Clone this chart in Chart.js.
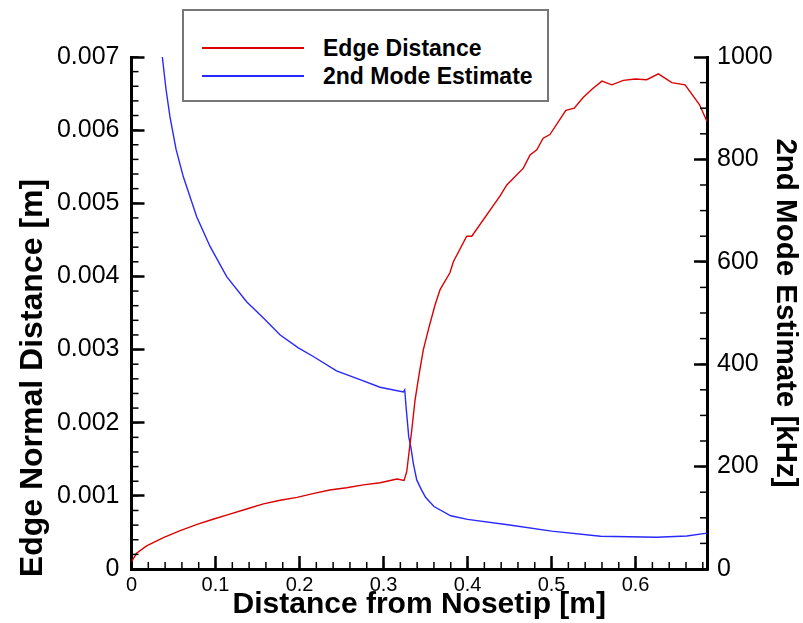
<!DOCTYPE html>
<html>
<head>
<meta charset="utf-8">
<script src="https://cdn.jsdelivr.net/npm/chart.js@4.4.1/dist/chart.umd.min.js"></script>
<style>
  body { margin: 0; background: #fff; }
  #wrap { position: relative; width: 803px; height: 623px; }
  #legend {
    position: absolute; left: 182px; top: 9px; width: 363px; height: 89px;
    border: 2px solid #777; background: #fff;
    font: bold 23px "Liberation Sans", Arial, sans-serif; color: #000;
  }
  .row { position: absolute; left: 0; height: 26px; width: 100%; }
  .row .ln { position: absolute; left: 18px; top: 12px; width: 102px; height: 2px; }
  .row .tx { position: absolute; left: 139px; top: 0; line-height: 26px; white-space: nowrap; }
</style>
</head>
<body>
<div id="wrap">
  <canvas id="chart" width="803" height="623"></canvas>
  <div id="legend"></div>
</div>
<script>
// Edge distance (left axis, m) vs distance from nosetip (m)
const edgeX = [0, 0.006, 0.018, 0.038, 0.058, 0.078, 0.097, 0.117, 0.137, 0.157, 0.177, 0.197,
  0.216, 0.236, 0.256, 0.276, 0.296, 0.316, 0.3244, 0.3276, 0.3307, 0.3336, 0.3375, 0.3426,
  0.3474, 0.3533, 0.3554, 0.3613, 0.3673, 0.379, 0.3831, 0.399, 0.405, 0.4387, 0.4467, 0.4664,
  0.4744, 0.4824, 0.490, 0.498, 0.517, 0.527, 0.537, 0.548, 0.56, 0.5717, 0.5855, 0.5994,
  0.6133, 0.6271, 0.6431, 0.6589, 0.676, 0.685];
const edgeY = [0.00010, 0.000215, 0.000315, 0.00043, 0.000524, 0.00061, 0.00068, 0.00075,
  0.00082, 0.00089, 0.00094, 0.00098, 0.00103, 0.00108, 0.00111, 0.00115, 0.00118, 0.00123,
  0.00121, 0.00133, 0.00163, 0.0019, 0.00231, 0.00268, 0.0030, 0.00327, 0.00336, 0.00361,
  0.00382, 0.00405, 0.0042, 0.00455, 0.00455, 0.0051, 0.00525, 0.00548, 0.00566, 0.00573,
  0.00589, 0.00594, 0.00627, 0.0063, 0.00644, 0.00656, 0.00667, 0.00662, 0.00668, 0.0067,
  0.00669, 0.00677, 0.00665, 0.00662, 0.00635, 0.00612];

// 2nd mode estimate (right axis, kHz)
const modeX = [0.0367, 0.041, 0.0458, 0.053, 0.0617, 0.0776, 0.0935, 0.1133, 0.137, 0.157, 0.177,
  0.1986, 0.2164, 0.244, 0.272, 0.2958, 0.3236, 0.3252, 0.3268, 0.330, 0.3324, 0.3355, 0.3395,
  0.345, 0.35, 0.36, 0.38, 0.40, 0.45, 0.50, 0.5583, 0.625, 0.661, 0.685];
const modeY = [1000, 938, 883, 820, 766, 688, 630, 571, 522, 490, 457, 432, 415, 387, 370, 355,
  346, 350, 317, 258, 239, 206, 174, 155, 140, 122, 104, 97, 86, 74, 64, 62, 64.5, 70];

const xTicks = [0, 0.1, 0.2, 0.3, 0.4, 0.5, 0.6];
const xLabels = ['0', '0.1', '0.2', '0.3', '0.4', '0.5', '0.6'];
const leftTicks = [0, 0.001, 0.002, 0.003, 0.004, 0.005, 0.006, 0.007];
const leftLabels = ['0', '0.001', '0.002', '0.003', '0.004', '0.005', '0.006', '0.007'];
const rightTicks = [0, 200, 400, 600, 800, 1000];
const rightLabels = ['0', '200', '400', '600', '800', '1000'];

const FONT = '"Liberation Sans", Arial, sans-serif';

function pts(xs, ys) { return xs.map((x, i) => ({x: x, y: ys[i]})); }

// major ticks come from the scales (negative length = inward); minors + left title here
const innerTicks = {
  id: 'innerTicks',
  afterDraw(chart) {
    const ctx = chart.ctx;
    const a = chart.chartArea;
    const sx = chart.scales.x, sl = chart.scales.y, sr = chart.scales.y1;
    ctx.save();
    ctx.strokeStyle = '#000';
    ctx.lineWidth = 1.5;
    for (let v = 0.02; v < 0.685; v += 0.02) {
      const p = sx.getPixelForValue(v);
      ctx.beginPath(); ctx.moveTo(p, a.bottom); ctx.lineTo(p, a.bottom - 7); ctx.stroke();
    }
    for (let v = 0.0002; v < 0.007; v += 0.0002) {
      const p = sl.getPixelForValue(v);
      ctx.beginPath(); ctx.moveTo(a.left, p); ctx.lineTo(a.left + 7, p); ctx.stroke();
    }
    for (let v = 50; v < 1000; v += 50) {
      const p = sr.getPixelForValue(v);
      ctx.beginPath(); ctx.moveTo(a.right, p); ctx.lineTo(a.right - 7, p); ctx.stroke();
    }

    ctx.translate(33, 378);
    ctx.rotate(-Math.PI / 2);
    ctx.fillStyle = '#000';
    ctx.font = 'bold 32px ' + FONT;
    ctx.textAlign = 'center';
    ctx.textBaseline = 'middle';
    ctx.fillText('Edge Normal Distance [m]', 0, 0);
    ctx.restore();
  }
};

const inwardGrid = {
  display: true, drawOnChartArea: false, drawTicks: true,
  tickLength: -13, tickWidth: 2.5, tickColor: '#000'
};

const chart = new Chart(document.getElementById('chart'), {
  type: 'line',
  data: {
    datasets: [
      {
        label: 'Edge Distance',
        data: pts(edgeX, edgeY),
        borderColor: 'rgb(220,0,0)',
        borderWidth: 1.4,
        pointRadius: 0,
        tension: 0,
        yAxisID: 'y'
      },
      {
        label: '2nd Mode Estimate',
        data: pts(modeX, modeY),
        borderColor: 'rgb(40,40,255)',
        borderWidth: 1.4,
        pointRadius: 0,
        tension: 0,
        yAxisID: 'y1'
      }
    ]
  },
  options: {
    responsive: false,
    animation: false,
    devicePixelRatio: 1,
    layout: { padding: { top: 57, left: 0, right: 0, bottom: 0 } },
    plugins: { legend: { display: false }, tooltip: { enabled: false } },
    scales: {
      x: {
        type: 'linear', min: 0, max: 0.685,
        afterBuildTicks: s => { s.ticks = xTicks.map(v => ({value: v})); },
        afterFit: s => { s.height = 54; },
        grid: inwardGrid,
        border: { display: true, color: '#000', width: 3 },
        ticks: {
          color: '#000', padding: 17, maxRotation: 0,
          font: { family: FONT, size: 20 },
          callback: (v, i) => xLabels[i]
        },
        title: {
          display: true, text: 'Distance from Nosetip [m]', color: '#000',
          font: { family: FONT, size: 30, weight: 'bold' }, padding: { top: 0, bottom: 0 }
        }
      },
      y: {
        type: 'linear', position: 'left', min: 0, max: 0.007,
        afterBuildTicks: s => { s.ticks = leftTicks.map(v => ({value: v})); },
        afterFit: s => { s.width = 131.5; },
        grid: inwardGrid,
        border: { display: true, color: '#000', width: 3 },
        ticks: {
          color: '#000', padding: 25,
          font: { family: FONT, size: 25 },
          callback: (v, i) => leftLabels[i]
        },
        title: { display: false }
      },
      y1: {
        type: 'linear', position: 'right', min: 0, max: 1000,
        afterBuildTicks: s => { s.ticks = rightTicks.map(v => ({value: v})); },
        afterFit: s => { s.width = 96; },
        grid: inwardGrid,
        border: { display: true, color: '#000', width: 3 },
        ticks: {
          color: '#000', padding: 23,
          font: { family: FONT, size: 25 },
          callback: (v, i) => rightLabels[i]
        },
        title: {
          display: true, text: '2nd Mode Estimate [kHz]', color: '#000',
          font: { family: FONT, size: 29.5, weight: 'bold' }, padding: { top: 0, bottom: 0 }
        }
      }
    }
  },
  plugins: [innerTicks]
});

// legend box overlapping the plot top
const legend = document.getElementById('legend');
chart.data.datasets.forEach((ds, i) => {
  const row = document.createElement('div');
  row.className = 'row';
  row.style.top = (24 + i * 28) + 'px';
  const ln = document.createElement('div');
  ln.className = 'ln';
  ln.style.background = ds.borderColor;
  const tx = document.createElement('div');
  tx.className = 'tx';
  tx.textContent = ds.label;
  row.appendChild(ln);
  row.appendChild(tx);
  legend.appendChild(row);
});
</script>
</body>
</html>
